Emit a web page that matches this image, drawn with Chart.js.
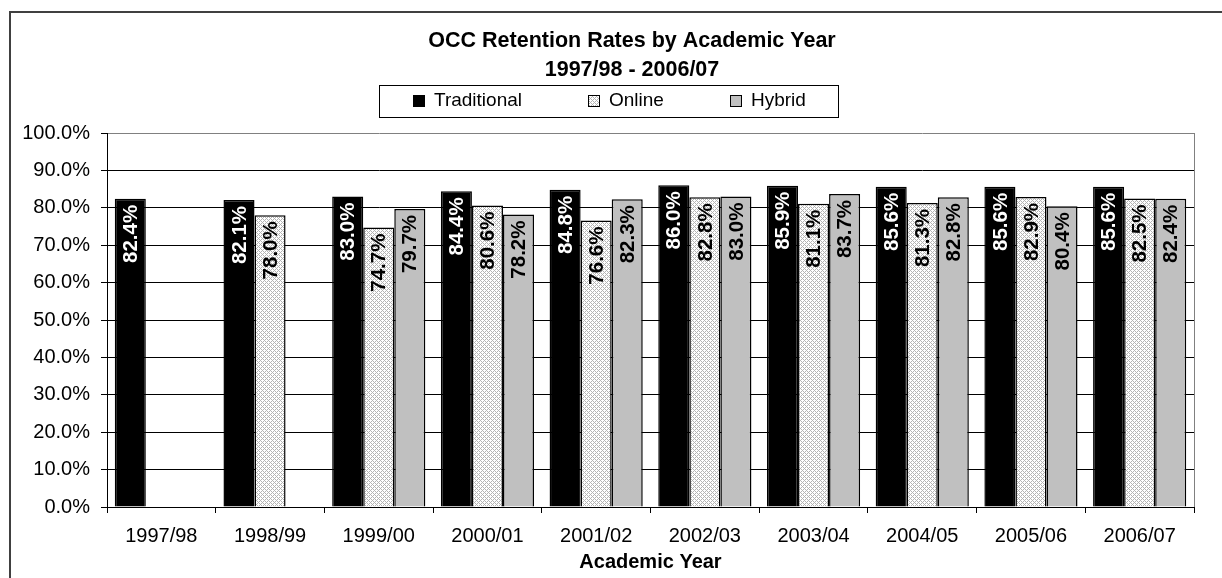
<!DOCTYPE html>
<html>
<head>
<meta charset="utf-8">
<title>OCC Retention Rates by Academic Year</title>
<script src="https://cdn.jsdelivr.net/npm/chart.js@4.4.0/dist/chart.umd.min.js"></script>
<style>
  html, body { margin: 0; padding: 0; background: #fff; }
  canvas { display: block; }
</style>
</head>
<body>
<canvas id="retentionChart" width="1222" height="578"></canvas>
<script>
// data
const years = ["1997/98", "1998/99", "1999/00", "2000/01", "2001/02",
               "2002/03", "2003/04", "2004/05", "2005/06", "2006/07"];
const traditional = [82.4, 82.1, 83.0, 84.4, 84.8, 86.0, 85.9, 85.6, 85.6, 85.6];
const online = [null, 78.0, 74.7, 80.6, 76.6, 82.8, 81.1, 81.3, 82.9, 82.5];
const hybrid = [null, null, 79.7, 78.2, 82.3, 83.0, 83.7, 82.8, 80.4, 82.4];
const titleLines = ["OCC Retention Rates by Academic Year", "1997/98 - 2006/07"];

const FONT = "Arial, 'Liberation Sans', sans-serif";
Chart.defaults.font.family = FONT;
Chart.defaults.color = "#000";

// crosshatch fill for the Online bars
function hatch() {
    const c = document.createElement("canvas");
    c.width = 4; c.height = 4;
    const g = c.getContext("2d");
    g.fillStyle = "#fff";
    g.fillRect(0, 0, 4, 4);
    g.fillStyle = "#b4b4b4";
    for (let i = 0; i < 4; i++) {
        for (let j = 0; j < 4; j++) {
            if ((i + j) % 4 === 0 || (i - j + 4) % 4 === 0) g.fillRect(i, j, 1, 1);
        }
    }
    return g.createPattern(c, "repeat");
}
const onlineFill = hatch();

// frame, title, legend box, right plot border
const decorations = {
    id: "decorations",
    beforeDraw(chart) {
        const ctx = chart.ctx;
        ctx.save();
        ctx.fillStyle = "#fff";
        ctx.fillRect(0, 0, chart.width, chart.height);
        ctx.strokeStyle = "#404040";
        ctx.lineWidth = 2;
        ctx.beginPath();
        ctx.moveTo(10, chart.height);
        ctx.lineTo(10, 12);
        ctx.lineTo(chart.width, 12);
        ctx.stroke();
        ctx.restore();
    },
    afterDraw(chart) {
        const ctx = chart.ctx;
        const area = chart.chartArea;
        ctx.save();
        // plot area right edge
        ctx.strokeStyle = "#808080";
        ctx.lineWidth = 1;
        ctx.beginPath();
        ctx.moveTo(area.right + 0.5, area.top);
        ctx.lineTo(area.right + 0.5, area.bottom);
        ctx.stroke();

        // title
        ctx.fillStyle = "#000";
        ctx.font = "bold 21.5px " + FONT;
        ctx.textAlign = "center";
        ctx.textBaseline = "middle";
        ctx.fillText(titleLines[0], 632, 41);
        ctx.fillText(titleLines[1], 632, 70);

        // legend
        ctx.strokeStyle = "#000";
        ctx.strokeRect(379.5, 85.5, 459, 32);
        const itemX = [413, 588, 730];
        ctx.font = "19px " + FONT;
        ctx.textAlign = "left";
        chart.data.datasets.forEach((ds, i) => {
            ctx.fillStyle = ds.backgroundColor;
            ctx.fillRect(itemX[i], 95, 12, 12);
            ctx.strokeRect(itemX[i] + 0.5, 95.5, 11, 11);
            ctx.fillStyle = "#000";
            ctx.fillText(ds.label, itemX[i] + 21, 101);
        });
        ctx.restore();
    }
};

// rotated value labels inside the bars
const barLabels = {
    id: "barLabels",
    afterDatasetsDraw(chart) {
        const ctx = chart.ctx;
        chart.data.datasets.forEach((ds, i) => {
            chart.getDatasetMeta(i).data.forEach((bar, j) => {
                const v = ds.data[j];
                if (v == null) return;
                ctx.save();
                ctx.translate(bar.x, bar.y + 6);
                ctx.rotate(-Math.PI / 2);
                ctx.font = "bold 20.5px " + FONT;
                ctx.fillStyle = ds.labelColor;
                ctx.textAlign = "right";
                ctx.textBaseline = "middle";
                ctx.fillText(v.toFixed(1) + "%", 0, 1);
                ctx.restore();
            });
        });
    }
};

new Chart(document.getElementById("retentionChart"), {
    type: "bar",
    data: {
        labels: years,
        datasets: [
            { label: "Traditional", data: traditional, backgroundColor: "#000", labelColor: "#fff" },
            { label: "Online", data: online, backgroundColor: onlineFill, labelColor: "#000" },
            { label: "Hybrid", data: hybrid, backgroundColor: "#c0c0c0", labelColor: "#000" }
        ]
    },
    options: {
        responsive: false,
        animation: false,
        layout: { padding: { top: 133, right: 28, left: 0, bottom: 0 } },
        datasets: {
            bar: {
                borderColor: "#000",
                borderWidth: 1.5,
                categoryPercentage: 0.857,
                barPercentage: 1.0
            }
        },
        plugins: {
            legend: { display: false },
            title: { display: false },
            tooltip: { enabled: false }
        },
        scales: {
            x: {
                afterFit: s => { s.height = 71; },
                grid: { drawOnChartArea: false, tickLength: 6, tickColor: "#000", offset: true },
                border: { color: "#000", width: 1 },
                ticks: { font: { size: 20 }, padding: 11, maxRotation: 0 },
                title: {
                    display: true,
                    text: "Academic Year",
                    font: { size: 20, weight: "bold" },
                    padding: { top: 0, bottom: 4 }
                }
            },
            y: {
                min: 0,
                max: 100,
                afterFit: s => { s.width = 107; },
                grid: {
                    color: ctx => ctx.tick && ctx.tick.value === 100 ? "#808080" : "#000",
                    tickColor: "#000",
                    tickLength: 6
                },
                border: { color: "#000", width: 1 },
                ticks: {
                    stepSize: 10,
                    font: { size: 20 },
                    padding: 11,
                    callback: v => v.toFixed(1) + "%"
                }
            }
        }
    },
    plugins: [decorations, barLabels]
});
</script>
</body>
</html>
